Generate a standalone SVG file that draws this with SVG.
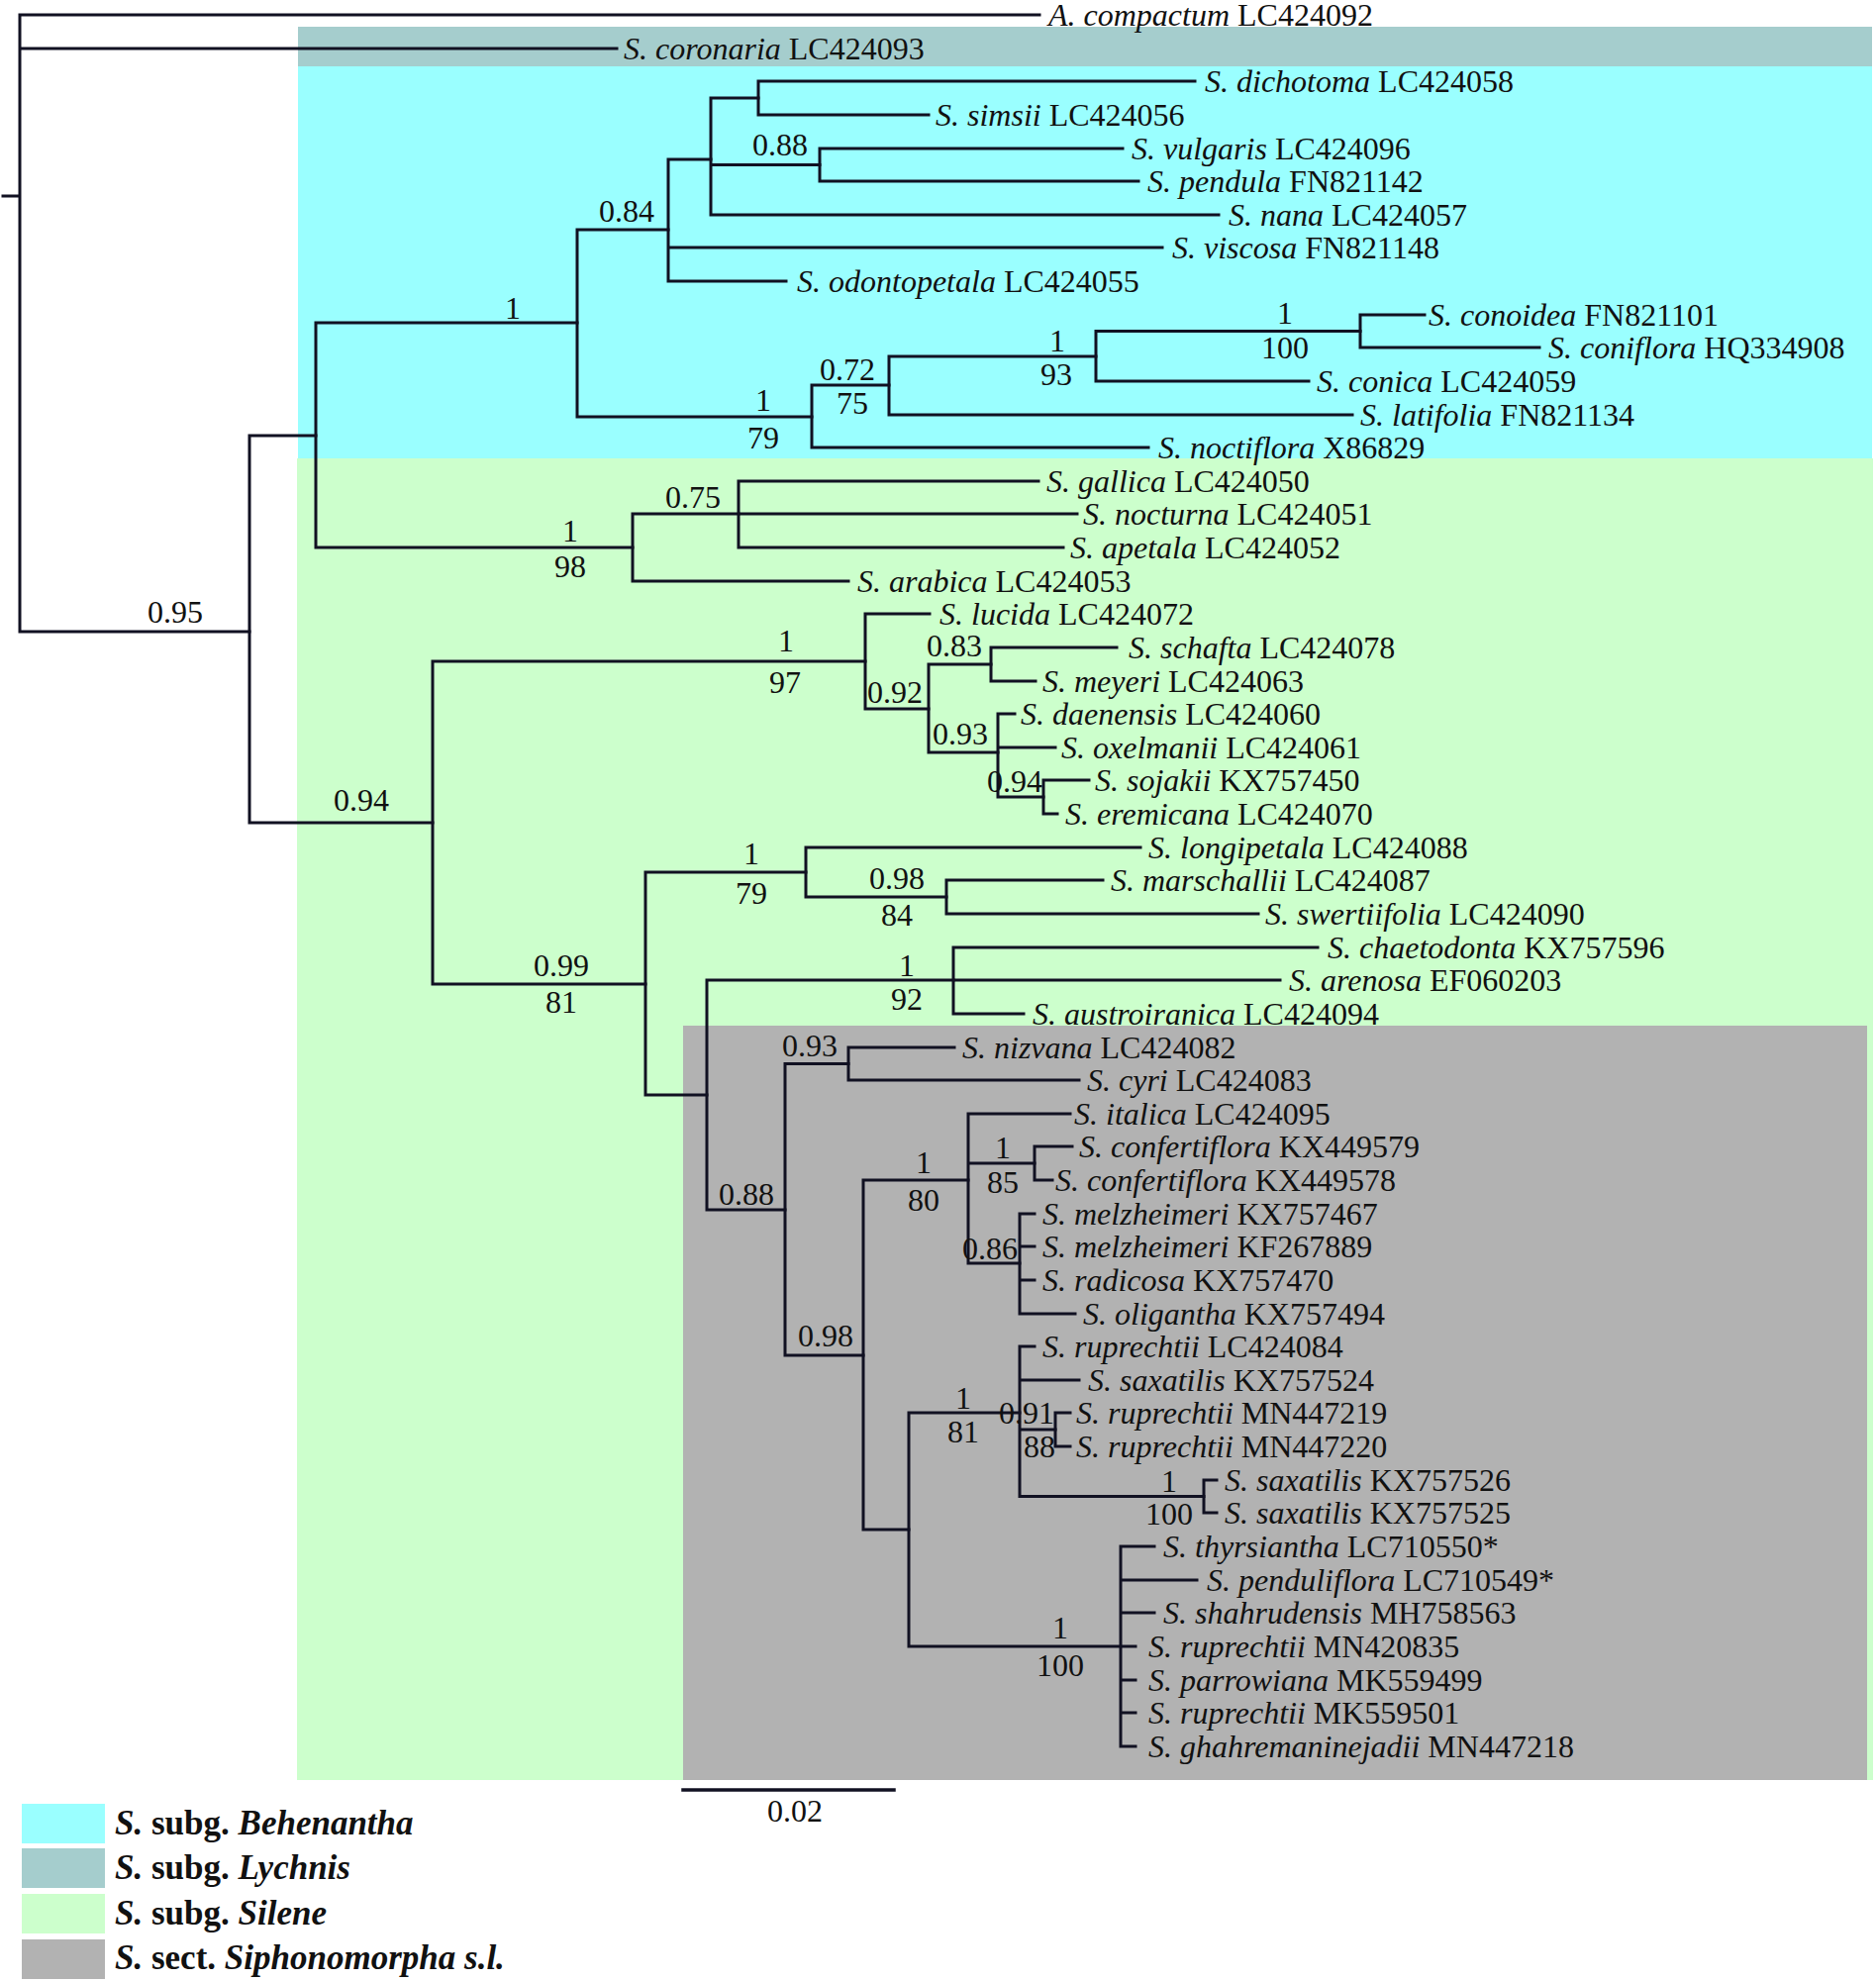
<svg xmlns="http://www.w3.org/2000/svg" width="1895" height="2001" viewBox="0 0 1895 2001">
<style>
text{font-family:"Liberation Serif","Times New Roman",serif;font-size:32px;fill:#111}
.i{font-style:italic}
.s{text-anchor:middle}
.lg{font-size:35px;font-weight:bold}
.br{fill:none;stroke:#111122;stroke-width:3;stroke-linecap:square}
</style>
<rect width="1895" height="2001" fill="#fff"/>
<g id="bands">
<rect x="301" y="27" width="1590" height="40" fill="#a5cdcd"/>
<rect x="301" y="67" width="1590" height="396" fill="#9affff"/>
<rect x="300" y="463" width="1592" height="1335" fill="#ccffcc"/>
<rect x="690" y="1036" width="1196" height="762" fill="#b2b2b2"/>
</g>
<g id="connectors" class="br">
<path d="M3,198H20M20,15V638M20,15H1050M20,49H623M20,638H252"/>
<path d="M252,440V831M252,440H319M252,831H437"/>
<path d="M319,326V553M319,326H583M319,553H639"/>
<path d="M583,232V421M583,232H675M583,421H820"/>
<path d="M675,161V284M675,161H718M675,250H1174M675,284H794"/>
<path d="M718,99V217M718,99H766M718,166.5H828M718,217H1231"/>
<path d="M766,82V116M766,82H1207M766,116H938"/>
<path d="M828,150V183M828,150H1134M828,183H1150"/>
<path d="M820,389V452M820,389H898M820,452H1160"/>
<path d="M898,360V419M898,360H1107M898,419H1366"/>
<path d="M1107,334.5V385M1107,334.5H1374M1107,385H1322"/>
<path d="M1374,318V351M1374,318H1439M1374,351H1555"/>
<path d="M639,519V587M639,519H746M639,587H857"/>
<path d="M746,486V553M746,486H1049M746,519H1088M746,553H1074"/>
<path d="M437,668V994M437,668H874M437,994H652"/>
<path d="M874,620V716M874,620H939M874,716H938"/>
<path d="M938,671V760M938,671H1001M938,760H1008"/>
<path d="M1001,654V688M1001,654H1128M1001,688H1046"/>
<path d="M1008,721V805M1008,721H1025M1008,755H1066M1008,805H1054"/>
<path d="M1054,788V822M1054,788H1100M1054,822H1068"/>
<path d="M652,881V1106M652,881H814M652,1106H714"/>
<path d="M814,856V906M814,856H1152M814,906H956"/>
<path d="M956,889V923M956,889H1114M956,923H1271"/>
<path d="M714,990V1222M714,990H963M714,1222H793"/>
<path d="M963,957V1024M963,957H1331M963,990H1293M963,1024H1034"/>
<path d="M793,1074.5V1369M793,1074.5H857M793,1369H872"/>
<path d="M857,1058V1091M857,1058H964M857,1091H1090"/>
<path d="M872,1192V1545M872,1192H978M872,1545H918"/>
<path d="M978,1125V1276M978,1125H1081M978,1175H1045M978,1276H1030"/>
<path d="M1045,1158V1192M1045,1158H1083M1045,1192H1063"/>
<path d="M1030,1226V1327M1030,1226H1045M1030,1259H1045M1030,1293H1045M1030,1327H1086"/>
<path d="M918,1427V1663M918,1427H1030M918,1663H1147"/>
<path d="M1030,1360V1511.5M1030,1360H1045M1030,1394H1090M1030,1444H1066M1030,1511.5H1216"/>
<path d="M1066,1427V1461M1066,1427H1081M1066,1461H1081"/>
<path d="M1216,1495V1528M1216,1495H1229M1216,1528H1229"/>
<path d="M1132,1562V1764M1132,1562H1166M1132,1596H1209M1132,1629H1166M1132,1697H1147M1132,1730H1147M1132,1764H1147"/>
<path d="M690,1808H903" style="stroke-width:3.5"/>
</g>
<g id="tips">
<g id="t00"><text x="1059" y="26"><tspan class="i">A. compactum</tspan> LC424092</text></g>
<g id="t01"><text x="630" y="60"><tspan class="i">S. coronaria</tspan> LC424093</text></g>
<g id="t02"><text x="1217" y="93"><tspan class="i">S. dichotoma</tspan> LC424058</text></g>
<g id="t03"><text x="945" y="127"><tspan class="i">S. simsii</tspan> LC424056</text></g>
<g id="t04"><text x="1143" y="161"><tspan class="i">S. vulgaris</tspan> LC424096</text></g>
<g id="t05"><text x="1159" y="194"><tspan class="i">S. pendula</tspan> FN821142</text></g>
<g id="t06"><text x="1241" y="228"><tspan class="i">S. nana</tspan> LC424057</text></g>
<g id="t07"><text x="1184" y="261"><tspan class="i">S. viscosa</tspan> FN821148</text></g>
<g id="t08"><text x="805" y="295"><tspan class="i">S. odontopetala</tspan> LC424055</text></g>
<g id="t09"><text x="1443" y="329"><tspan class="i">S. conoidea</tspan> FN821101</text></g>
<g id="t10"><text x="1564" y="362"><tspan class="i">S. coniflora</tspan> HQ334908</text></g>
<g id="t11"><text x="1330" y="396"><tspan class="i">S. conica</tspan> LC424059</text></g>
<g id="t12"><text x="1374" y="430"><tspan class="i">S. latifolia</tspan> FN821134</text></g>
<g id="t13"><text x="1170" y="463"><tspan class="i">S. noctiflora</tspan> X86829</text></g>
<g id="t14"><text x="1057" y="497"><tspan class="i">S. gallica</tspan> LC424050</text></g>
<g id="t15"><text x="1094" y="530"><tspan class="i">S. nocturna</tspan> LC424051</text></g>
<g id="t16"><text x="1081" y="564"><tspan class="i">S. apetala</tspan> LC424052</text></g>
<g id="t17"><text x="866" y="598"><tspan class="i">S. arabica</tspan> LC424053</text></g>
<g id="t18"><text x="949" y="631"><tspan class="i">S. lucida</tspan> LC424072</text></g>
<g id="t19"><text x="1140" y="665"><tspan class="i">S. schafta</tspan> LC424078</text></g>
<g id="t20"><text x="1053" y="699"><tspan class="i">S. meyeri</tspan> LC424063</text></g>
<g id="t21"><text x="1031" y="732"><tspan class="i">S. daenensis</tspan> LC424060</text></g>
<g id="t22"><text x="1072" y="766"><tspan class="i">S. oxelmanii</tspan> LC424061</text></g>
<g id="t23"><text x="1106" y="799"><tspan class="i">S. sojakii</tspan> KX757450</text></g>
<g id="t24"><text x="1076" y="833"><tspan class="i">S. eremicana</tspan> LC424070</text></g>
<g id="t25"><text x="1160" y="867"><tspan class="i">S. longipetala</tspan> LC424088</text></g>
<g id="t26"><text x="1122" y="900"><tspan class="i">S. marschallii</tspan> LC424087</text></g>
<g id="t27"><text x="1278" y="934"><tspan class="i">S. swertiifolia</tspan> LC424090</text></g>
<g id="t28"><text x="1341" y="968"><tspan class="i">S. chaetodonta</tspan> KX757596</text></g>
<g id="t29"><text x="1302" y="1001"><tspan class="i">S. arenosa</tspan> EF060203</text></g>
<g id="t30"><text x="1043" y="1035"><tspan class="i">S. austroiranica</tspan> LC424094</text></g>
<g id="t31"><text x="972" y="1069"><tspan class="i">S. nizvana</tspan> LC424082</text></g>
<g id="t32"><text x="1098" y="1102"><tspan class="i">S. cyri</tspan> LC424083</text></g>
<g id="t33"><text x="1085" y="1136"><tspan class="i">S. italica</tspan> LC424095</text></g>
<g id="t34"><text x="1090" y="1169"><tspan class="i">S. confertiflora</tspan> KX449579</text></g>
<g id="t35"><text x="1066" y="1203"><tspan class="i">S. confertiflora</tspan> KX449578</text></g>
<g id="t36"><text x="1053" y="1237"><tspan class="i">S. melzheimeri</tspan> KX757467</text></g>
<g id="t37"><text x="1053" y="1270"><tspan class="i">S. melzheimeri</tspan> KF267889</text></g>
<g id="t38"><text x="1053" y="1304"><tspan class="i">S. radicosa</tspan> KX757470</text></g>
<g id="t39"><text x="1094" y="1338"><tspan class="i">S. oligantha</tspan> KX757494</text></g>
<g id="t40"><text x="1053" y="1371"><tspan class="i">S. ruprechtii</tspan> LC424084</text></g>
<g id="t41"><text x="1099" y="1405"><tspan class="i">S. saxatilis</tspan> KX757524</text></g>
<g id="t42"><text x="1087" y="1438"><tspan class="i">S. ruprechtii</tspan> MN447219</text></g>
<g id="t43"><text x="1087" y="1472"><tspan class="i">S. ruprechtii</tspan> MN447220</text></g>
<g id="t44"><text x="1237" y="1506"><tspan class="i">S. saxatilis</tspan> KX757526</text></g>
<g id="t45"><text x="1237" y="1539"><tspan class="i">S. saxatilis</tspan> KX757525</text></g>
<g id="t46"><text x="1175" y="1573"><tspan class="i">S. thyrsiantha</tspan> LC710550*</text></g>
<g id="t47"><text x="1219" y="1607"><tspan class="i">S. penduliflora</tspan> LC710549*</text></g>
<g id="t48"><text x="1175" y="1640"><tspan class="i">S. shahrudensis</tspan> MH758563</text></g>
<g id="t49"><text x="1160" y="1674"><tspan class="i">S. ruprechtii</tspan> MN420835</text></g>
<g id="t50"><text x="1160" y="1708"><tspan class="i">S. parrowiana</tspan> MK559499</text></g>
<g id="t51"><text x="1160" y="1741"><tspan class="i">S. ruprechtii</tspan> MK559501</text></g>
<g id="t52"><text x="1160" y="1775"><tspan class="i">S. ghahremaninejadii</tspan> MN447218</text></g>
</g>
<g id="support" class="s">
<text class="s" x="177" y="629">0.95</text>
<text class="s" x="365" y="819">0.94</text>
<text class="s" x="518" y="322">1</text>
<text class="s" x="633" y="224">0.84</text>
<text class="s" x="788" y="157">0.88</text>
<text class="s" x="771" y="415">1</text>
<text class="s" x="771" y="453">79</text>
<text class="s" x="856" y="384">0.72</text>
<text class="s" x="861" y="418">75</text>
<text class="s" x="1068" y="355">1</text>
<text class="s" x="1067" y="389">93</text>
<text class="s" x="1298" y="327">1</text>
<text class="s" x="1298" y="362">100</text>
<text class="s" x="576" y="547">1</text>
<text class="s" x="576" y="583">98</text>
<text class="s" x="700" y="513">0.75</text>
<text class="s" x="794" y="658">1</text>
<text class="s" x="793" y="700">97</text>
<text class="s" x="904" y="710">0.92</text>
<text class="s" x="964" y="663">0.83</text>
<text class="s" x="970" y="752">0.93</text>
<text class="s" x="1025" y="800">0.94</text>
<text class="s" x="567" y="986">0.99</text>
<text class="s" x="567" y="1023">81</text>
<text class="s" x="759" y="873">1</text>
<text class="s" x="759" y="913">79</text>
<text class="s" x="906" y="898">0.98</text>
<text class="s" x="906" y="935">84</text>
<text class="s" x="916" y="986">1</text>
<text class="s" x="916" y="1020">92</text>
<text class="s" x="754" y="1217">0.88</text>
<text class="s" x="818" y="1067">0.93</text>
<text class="s" x="834" y="1360">0.98</text>
<text class="s" x="933" y="1185">1</text>
<text class="s" x="933" y="1223">80</text>
<text class="s" x="1013" y="1170">1</text>
<text class="s" x="1013" y="1205">85</text>
<text class="s" x="1000" y="1272">0.86</text>
<text class="s" x="973" y="1423">1</text>
<text class="s" x="973" y="1457">81</text>
<text class="s" x="1037" y="1438">0.91</text>
<text class="s" x="1050" y="1472">88</text>
<text class="s" x="1181" y="1507">1</text>
<text class="s" x="1181" y="1540">100</text>
<text class="s" x="1071" y="1655">1</text>
<text class="s" x="1071" y="1693">100</text>
</g>
<g id="scale">
<text class="s" x="803" y="1840">0.02</text>
</g>
<g id="legend">
<g id="leg-behenantha"><rect x="22" y="1822" width="84" height="40" fill="#9affff"/><text class="lg" x="116" y="1853"><tspan class="i">S.</tspan> subg. <tspan class="i">Behenantha</tspan></text></g>
<g id="leg-lychnis"><rect x="22" y="1867" width="84" height="40" fill="#a5cdcd"/><text class="lg" x="116" y="1898"><tspan class="i">S.</tspan> subg. <tspan class="i">Lychnis</tspan></text></g>
<g id="leg-silene"><rect x="22" y="1913" width="84" height="40" fill="#ccffcc"/><text class="lg" x="116" y="1944"><tspan class="i">S.</tspan> subg. <tspan class="i">Silene</tspan></text></g>
<g id="leg-siphonomorpha"><rect x="22" y="1959" width="84" height="40" fill="#b2b2b2"/><text class="lg" x="116" y="1989"><tspan class="i">S.</tspan> sect. <tspan class="i">Siphonomorpha s.l.</tspan></text></g>
</g>
</svg>
